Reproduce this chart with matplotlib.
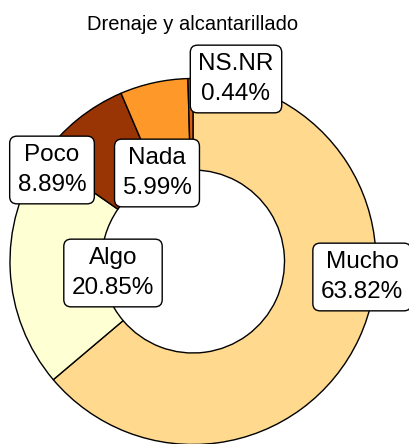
import matplotlib
matplotlib.use("Agg")
import matplotlib.pyplot as plt

# datos
categorias = ['Mucho', 'Algo', 'Poco', 'Nada', 'NS.NR']
porcentajes = [63.82, 20.85, 8.89, 5.99, 0.44]
colores = ['#FED98E', '#FFFFD4', '#993404', '#FE9929', '#D95F0E']

# posiciones de las etiquetas (en pixeles, desde arriba)
pos_etiquetas = [(362, 277), (113, 273), (52, 170), (157, 173), (236, 79)]

W, H = 410, 444
plt.rcParams['font.family'] = ['Liberation Sans', 'DejaVu Sans']

fig = plt.figure(figsize=(W / 100, H / 100), dpi=100)
ax = fig.add_axes([0, 0, 1, 1])

radio = 183
ax.pie(porcentajes, colors=colores, startangle=90, counterclock=False,
       center=(193, H - 261.5), radius=radio,
       wedgeprops=dict(width=radio * 0.5, edgecolor='black', linewidth=1.0))
ax.set_xlim(0, W)
ax.set_ylim(0, H)
ax.set_aspect('equal')
ax.axis('off')

for cat, p, (x, y) in zip(categorias, porcentajes, pos_etiquetas):
    ax.text(x, H - y, cat + '\n' + '%.2f%%' % p, ha='center', va='center',
            fontsize=17.5, linespacing=1.45,
            bbox=dict(boxstyle='round,pad=0.33,rounding_size=0.3',
                      facecolor='white', edgecolor='black', linewidth=1.0))

ax.text(193, H - 30, 'Drenaje y alcantarillado', ha='center', va='baseline',
        fontsize=14.5)

fig.savefig('out.png', dpi=100)
